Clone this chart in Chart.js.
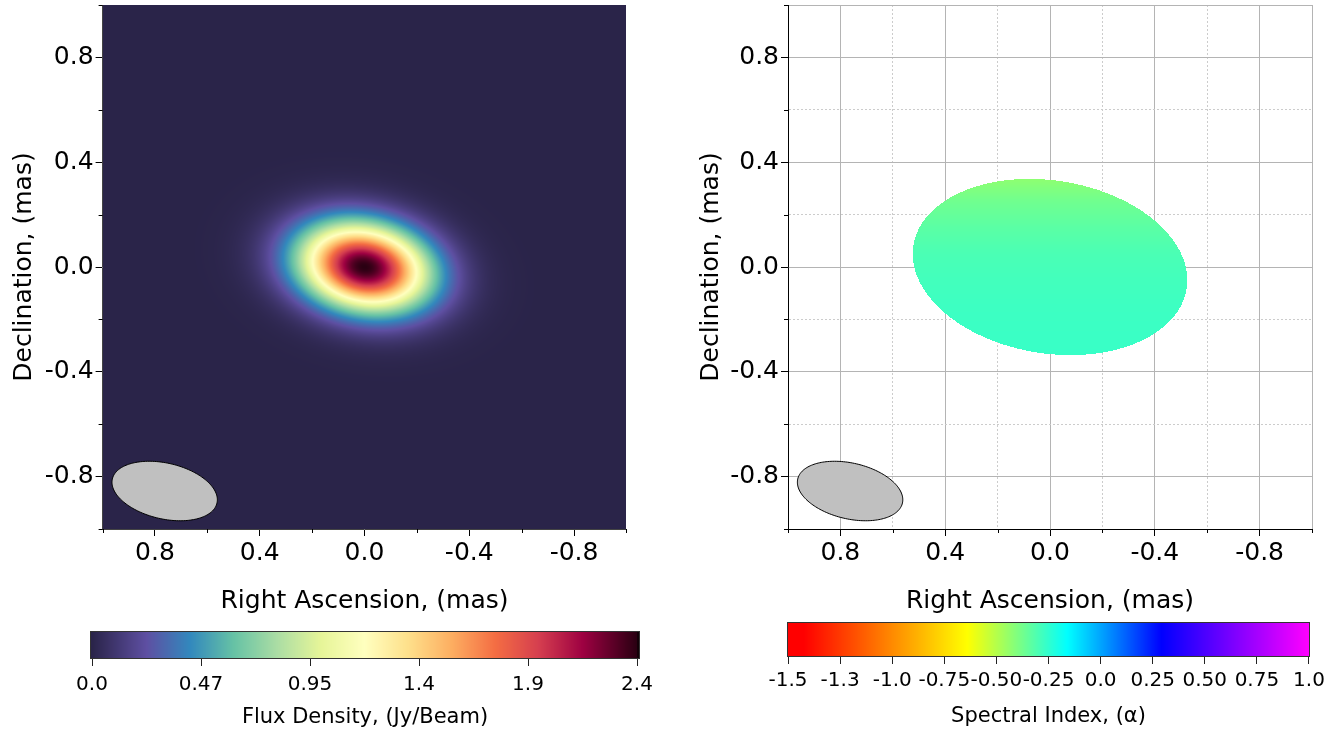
<!DOCTYPE html>
<html>
<head>
<meta charset="utf-8">
<script src="https://cdn.jsdelivr.net/npm/chart.js@4.4.1/dist/chart.umd.min.js"></script>
<style>
html,body{margin:0;padding:0;background:#ffffff;width:1344px;height:735px;overflow:hidden}
canvas{position:absolute;display:block}
</style>
</head>
<body>
<canvas id="fluxMap" style="left:0px;top:0px;width:672px;height:620px" width="672" height="620"></canvas>
<canvas id="alphaMap" style="left:672px;top:0px;width:672px;height:620px" width="672" height="620"></canvas>
<canvas id="fluxBar" style="left:0px;top:615px;width:672px;height:120px" width="672" height="120"></canvas>
<canvas id="alphaBar" style="left:672px;top:615px;width:672px;height:120px" width="672" height="120"></canvas>
<script>
// ---------------- DATA ----------------
// axis ticks (mas)
const axisTicks      = [1.0, 0.8, 0.6, 0.4, 0.2, 0.0, -0.2, -0.4, -0.6, -0.8, -1.0];
const majorTicks     = [0.8, 0.4, 0.0, -0.4, -0.8];
const majorTickLabels= ['0.8', '0.4', '0.0', '-0.4', '-0.8'];

// fitted Gaussian component of the flux map
const compRA    = [0.0];    // mas
const compDec   = [0.0];    // mas
const compPeak  = [2.37];   // Jy/beam
const compMajor = [0.40];   // FWHM, mas
const compMinor = [0.26];   // FWHM, mas
const compPA    = [79];     // deg, E of N

// restoring beam (drawn in the lower-left corner)
const beamRA    = [0.763];
const beamDec   = [-0.855];
const beamMajor = [0.41];
const beamMinor = [0.213];
const beamPA    = [77];

// spectral index region (mask) and values
const alphaMaskRA    = [0.0];
const alphaMaskDec   = [0.0];
const alphaMaskMajor = [1.056];
const alphaMaskMinor = [0.66];
const alphaMaskPA    = [81];
const alphaDec       = [0.34, 0.25, 0.15, 0.05, -0.05, -0.15, -0.34];
const alphaValue     = [-0.43, -0.37, -0.33, -0.30, -0.285, -0.275, -0.265];

// colour bars
const fluxRange      = [0.0, 2.37];
const fluxTicks      = [0.0, 0.474, 0.948, 1.422, 1.896, 2.37];
const fluxTickLabels = ['0.0', '0.47', '0.95', '1.4', '1.9', '2.4'];
const alphaRange      = [-1.5, 1.0];
const alphaTicks      = [-1.5, -1.25, -1.0, -0.75, -0.5, -0.25, 0.0, 0.25, 0.5, 0.75, 1.0];
const alphaTickLabels = ['-1.5', '-1.3', '-1.0', '-0.75', '-0.50', '-0.25', '0.0', '0.25', '0.50', '0.75', '1.0'];

// colour maps
const fluxCmapPos = [0, 0.1, 0.18, 0.26, 0.34, 0.42, 0.5, 0.58, 0.66, 0.74, 0.82, 0.9, 1.0];
const fluxCmapCol = ['#2a2449', '#5e4fa2', '#3288bd', '#66c2a5', '#abdda4', '#e6f598', '#ffffbf',
                     '#fee08b', '#fdae61', '#f46d43', '#d53e4f', '#9e0142', '#2a0012'];
const alphaCmapPos = [0, 0.03, 0.344, 0.536, 0.717, 1.0];
const alphaCmapCol = ['#ff0000', '#ff0000', '#ffff00', '#00ffff', '#0000ff', '#ff00ff'];

// ---------------- HELPERS ----------------
const FONT = '"DejaVu Sans", "Liberation Sans", sans-serif';
function hexRGB(h){return [parseInt(h.substr(1,2),16),parseInt(h.substr(3,2),16),parseInt(h.substr(5,2),16)];}
const fluxRGB = fluxCmapCol.map(hexRGB);
const alphaRGB = alphaCmapCol.map(hexRGB);
function cmap(pos, rgb, f){
  if (f <= pos[0]) return rgb[0];
  if (f >= pos[pos.length-1]) return rgb[rgb.length-1];
  for (let i=1;i<pos.length;i++){
    if (f <= pos[i]){
      const t = (f-pos[i-1])/(pos[i]-pos[i-1]);
      const a = rgb[i-1], b = rgb[i];
      return [a[0]+(b[0]-a[0])*t, a[1]+(b[1]-a[1])*t, a[2]+(b[2]-a[2])*t];
    }
  }
  return rgb[rgb.length-1];
}
function fluxAt(ra, dec){
  let f = 0;
  for (let k=0;k<compPeak.length;k++){
    const pa = compPA[k]*Math.PI/180, dx = ra-compRA[k], dy = dec-compDec[k];
    const u = dx*Math.sin(pa)+dy*Math.cos(pa);
    const v = dx*Math.cos(pa)-dy*Math.sin(pa);
    f += compPeak[k]*Math.exp(-4*Math.LN2*(u*u/(compMajor[k]*compMajor[k]) + v*v/(compMinor[k]*compMinor[k])));
  }
  return f;
}
function inAlphaMask(ra, dec){
  for (let k=0;k<alphaMaskRA.length;k++){
    const pa = alphaMaskPA[k]*Math.PI/180, dx = ra-alphaMaskRA[k], dy = dec-alphaMaskDec[k];
    const u = dx*Math.sin(pa)+dy*Math.cos(pa);
    const v = dx*Math.cos(pa)-dy*Math.sin(pa);
    const A = alphaMaskMajor[k]/2, B = alphaMaskMinor[k]/2;
    if (u*u/(A*A)+v*v/(B*B) <= 1) return true;
  }
  return false;
}
function alphaAt(dec){
  if (dec >= alphaDec[0]) return alphaValue[0];
  for (let i=1;i<alphaDec.length;i++){
    if (dec >= alphaDec[i]){
      const t = (dec-alphaDec[i-1])/(alphaDec[i]-alphaDec[i-1]);
      return alphaValue[i-1]+(alphaValue[i]-alphaValue[i-1])*t;
    }
  }
  return alphaValue[alphaValue.length-1];
}
const isMajor = v => majorTicks.some(m => Math.abs(m-v) < 1e-9);
const isEdge = v => Math.abs(Math.abs(v)-1) < 1e-9;
const majorLabel = v => { const i = majorTicks.findIndex(m => Math.abs(m-v) < 1e-9); return i>=0 ? majorTickLabels[i] : ''; };

// image plugin: renders a map through the chart's scales
function imagePlugin(kind){
  return {
    id: 'image_'+kind,
    beforeDatasetsDraw(chart){
      const {ctx, chartArea:a, scales:{x, y}} = chart;
      const W = a.right-a.left, H = a.bottom-a.top;
      const w = Math.round(W), h = Math.round(H);
      const off = document.createElement('canvas'); off.width = w; off.height = h;
      const octx = off.getContext('2d');
      const img = octx.createImageData(w, h);
      for (let j=0;j<h;j++){
        const dec = y.getValueForPixel(a.top + (j+0.5)*H/h);
        for (let i=0;i<w;i++){
          const ra = x.getValueForPixel(a.left + (i+0.5)*W/w);
          const p = (j*w+i)*4;
          if (kind === 'flux'){
            const f = (fluxAt(ra, dec)-fluxRange[0])/(fluxRange[1]-fluxRange[0]);
            const c = cmap(fluxCmapPos, fluxRGB, f);
            img.data[p]=c[0]; img.data[p+1]=c[1]; img.data[p+2]=c[2]; img.data[p+3]=255;
          } else {
            if (!inAlphaMask(ra, dec)) { img.data[p+3]=0; continue; }
            const f = (alphaAt(dec)-alphaRange[0])/(alphaRange[1]-alphaRange[0]);
            const c = cmap(alphaCmapPos, alphaRGB, f);
            img.data[p]=c[0]; img.data[p+1]=c[1]; img.data[p+2]=c[2]; img.data[p+3]=255;
          }
        }
      }
      octx.putImageData(img, 0, 0);
      ctx.save();
      ctx.drawImage(off, a.left, a.top, W, H);
      ctx.restore();
    }
  };
}
const beamPlugin = {
  id: 'beam',
  afterDatasetsDraw(chart){
    const {ctx, scales:{x, y}} = chart;
    for (let k=0;k<beamRA.length;k++){
      const pa = beamPA[k]*Math.PI/180, A = beamMajor[k]/2, B = beamMinor[k]/2;
      ctx.save();
      ctx.beginPath();
      for (let s=0;s<=180;s++){
        const t = s/180*2*Math.PI;
        const ra  = beamRA[k]  + A*Math.cos(t)*Math.sin(pa) + B*Math.sin(t)*Math.cos(pa);
        const dec = beamDec[k] + A*Math.cos(t)*Math.cos(pa) - B*Math.sin(t)*Math.sin(pa);
        const px = x.getPixelForValue(ra), py = y.getPixelForValue(dec);
        if (s===0) ctx.moveTo(px, py); else ctx.lineTo(px, py);
      }
      ctx.closePath();
      ctx.fillStyle = '#c0c0c0';
      ctx.fill();
      ctx.lineWidth = 1;
      ctx.strokeStyle = '#000000';
      ctx.stroke();
      ctx.restore();
    }
  }
};
const minorTickPlugin = {
  id: 'minorTicks',
  afterDraw(chart){
    const {ctx, chartArea:a, scales:{x, y}} = chart;
    ctx.save();
    ctx.strokeStyle = '#000'; ctx.lineWidth = 1;
    ctx.beginPath();
    x.ticks.forEach(t => { if (!isMajor(t.value)) { const px = Math.round(x.getPixelForValue(t.value))+0.5; ctx.moveTo(px, a.bottom); ctx.lineTo(px, a.bottom+4); } });
    y.ticks.forEach(t => { if (!isMajor(t.value)) { const py = Math.round(y.getPixelForValue(t.value))+0.5; ctx.moveTo(a.left, py); ctx.lineTo(a.left-4, py); } });
    ctx.stroke();
    ctx.restore();
  }
};

function mapOptions(withGrid, padLeft, padRight, yAxisWidth, yTitlePad){
  const gridOpts = {
    drawOnChartArea: withGrid,
    drawTicks: true,
    tickLength: 7,
    tickWidth: 1,
    tickColor: c => (c.tick && isMajor(c.tick.value)) ? '#000' : 'rgba(0,0,0,0)',
    color: c => (c.tick && (isMajor(c.tick.value) || isEdge(c.tick.value))) ? '#b4b4b4' : '#cccccc',
    lineWidth: 1
  };
  const borderOpts = {
    display: true, color: withGrid ? '#000' : '#444', width: 1,
    dash: c => (c.tick && !(isMajor(c.tick.value) || isEdge(c.tick.value))) ? [2, 2] : []
  };
  return {
    responsive: false, animation: false, devicePixelRatio: 1,
    layout: { padding: { left: padLeft, top: 5, right: padRight, bottom: 0 } },
    plugins: { legend: { display: false }, tooltip: { enabled: false } },
    scales: {
      x: {
        type: 'linear', reverse: true, min: -1, max: 1,
        afterBuildTicks: s => { s.ticks = axisTicks.map(v => ({ value: v })); },
        afterFit: s => { s.height = 91; s.paddingLeft = 0; s.paddingRight = 0; },
        ticks: { callback: v => majorLabel(v), font: { family: FONT, size: 25 }, color: '#000', padding: 2, maxRotation: 0, autoSkip: false },
        grid: gridOpts, border: borderOpts,
        title: { display: true, text: 'Right Ascension, (mas)', font: { family: FONT, size: 25 }, color: '#000', padding: { top: 0, bottom: 4 } }
      },
      y: {
        type: 'linear', min: -1, max: 1,
        afterBuildTicks: s => { s.ticks = axisTicks.map(v => ({ value: v })); },
        afterFit: s => { s.width = yAxisWidth; s.paddingTop = 0; s.paddingBottom = 0; },
        ticks: { callback: v => majorLabel(v), font: { family: FONT, size: 25 }, color: '#000', padding: 2, autoSkip: false },
        grid: gridOpts, border: borderOpts,
        title: { display: true, text: 'Declination, (mas)', font: { family: FONT, size: 25 }, color: '#000', padding: { top: yTitlePad, bottom: 0 } }
      }
    }
  };
}

new Chart(document.getElementById('fluxMap'), {
  type: 'scatter',
  data: { datasets: [{ label: 'Flux component', data: compRA.map((r,i)=>({x:r, y:compDec[i]})), pointRadius: 0 }] },
  options: mapOptions(false, 0, 45.6, 102.6, 9),
  plugins: [imagePlugin('flux'), beamPlugin, minorTickPlugin]
});
new Chart(document.getElementById('alphaMap'), {
  type: 'scatter',
  data: { datasets: [{ label: 'Spectral index region', data: alphaMaskRA.map((r,i)=>({x:r, y:alphaMaskDec[i]})), pointRadius: 0 }] },
  options: mapOptions(true, 0, 32, 116, 24),
  plugins: [imagePlugin('alpha'), beamPlugin, minorTickPlugin]
});

// ---------------- COLOUR BARS ----------------
function colorbarPlugin(pos, rgb, range, under, over){
  return {
    id: 'cbar',
    beforeDatasetsDraw(chart){
      const {ctx, chartArea:a, scales:{x}} = chart;
      ctx.save();
      for (let px = Math.floor(a.left); px < Math.ceil(a.right); px++){
        const v = x.getValueForPixel(px+0.5);
        let c;
        if (v < range[0]) c = under; else if (v > range[1]) c = over;
        else c = cmap(pos, rgb, (v-range[0])/(range[1]-range[0]));
        ctx.fillStyle = 'rgb('+Math.round(c[0])+','+Math.round(c[1])+','+Math.round(c[2])+')';
        ctx.fillRect(px, a.top, 1, a.bottom-a.top);
      }
      ctx.strokeStyle = '#333'; ctx.lineWidth = 1;
      ctx.strokeRect(Math.round(a.left)+0.5, Math.round(a.top)+0.5, Math.round(a.right-a.left)-1, Math.round(a.bottom-a.top));
      ctx.restore();
    }
  };
}
function barOptions(min, max, ticks, labels, title, padLeft, padRight, padTop, axisH, tickPad, titlePad){
  return {
    responsive: false, animation: false, devicePixelRatio: 1,
    layout: { padding: { left: padLeft, right: padRight, top: padTop, bottom: 0 } },
    plugins: { legend: { display: false }, tooltip: { enabled: false } },
    scales: {
      x: {
        type: 'linear', min: min, max: max,
        afterBuildTicks: s => { s.ticks = ticks.map(v => ({ value: v })); },
        afterFit: s => { s.height = axisH; s.paddingLeft = 0; s.paddingRight = 0; },
        ticks: { callback: (v, i) => labels[i], font: { family: FONT, size: 20 }, color: '#000', padding: tickPad, maxRotation: 0, autoSkip: false },
        grid: { drawOnChartArea: false, drawTicks: true, tickLength: 8, tickColor: '#222', tickWidth: 1 },
        border: { display: false },
        title: { display: true, text: title, font: { family: FONT, size: 21 }, color: '#000', padding: { top: 0, bottom: titlePad } }
      },
      y: { display: false, min: 0, max: 1 }
    }
  };
}
new Chart(document.getElementById('fluxBar'), {
  type: 'scatter', data: { datasets: [] },
  options: barOptions(-0.0087, 2.383, fluxTicks, fluxTickLabels, 'Flux Density, (Jy/Beam)', 90, 32, 16, 77, 7, 4.4),
  plugins: [colorbarPlugin(fluxCmapPos, fluxRGB, fluxRange, fluxRGB[0], [20,0,8])]
});
new Chart(document.getElementById('alphaBar'), {
  type: 'scatter', data: { datasets: [] },
  options: barOptions(-1.5048, 1.0048, alphaTicks, alphaTickLabels, 'Spectral Index, (\u03b1)', 115, 34, 7, 79, 5, 5.4),
  plugins: [colorbarPlugin(alphaCmapPos, alphaRGB, alphaRange, [150,0,0], [200,0,200])]
});
</script>
</body>
</html>
